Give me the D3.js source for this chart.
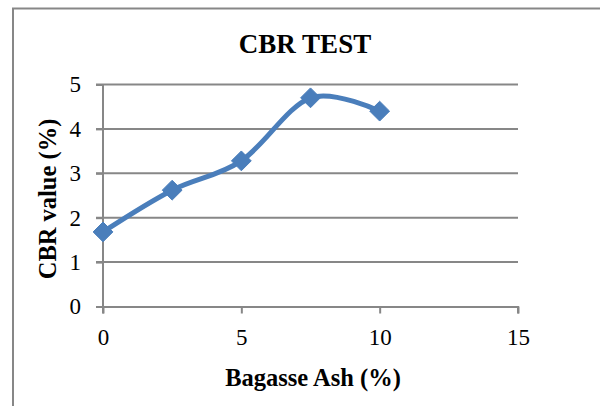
<!DOCTYPE html>
<html>
<head>
<meta charset="utf-8">
<script src="https://cdn.jsdelivr.net/npm/d3@7"></script>
<style>
  html, body { margin: 0; padding: 0; background: #fff; }
  svg { display: block; }
  text { font-family: "Liberation Serif", "Times New Roman", serif; fill: #000; }
</style>
</head>
<body>
<svg id="chart" width="600" height="406"></svg>
<script>
// CBR test results versus bagasse ash content
const ashPercent = [0, 2.5, 5, 7.5, 10];
const cbrValue = [1.68, 2.62, 3.28, 4.7, 4.4];
const xTicks = [0, 5, 10, 15];
const yTicks = [0, 1, 2, 3, 4, 5];
const titleText = "CBR TEST";
const xTitle = "Bagasse Ash (%)";
const yTitle = "CBR value (%)";

const svg = d3.select("#chart");
const gridColor = "#878787";
const lineColor = "#4a7ebb";

// chart area frame
svg.append("path")
  .attr("d", "M13,406 V8.5 H600")
  .attr("fill", "none")
  .attr("stroke", gridColor)
  .attr("stroke-width", 2);

const x = d3.scaleLinear().domain([0, 15]).range([103, 518]);
const y = d3.scaleLinear().domain([0, 5]).range([306.5, 84.5]);

// horizontal gridlines
svg.append("g").selectAll("line").data(yTicks.filter(d => d > 0)).join("line")
  .attr("x1", 96).attr("x2", x(15))
  .attr("y1", d => y(d)).attr("y2", d => y(d))
  .attr("stroke", gridColor).attr("stroke-width", 2);

// axes
const xAxis = svg.append("g").attr("transform", `translate(0,${y(0)})`)
  .call(d3.axisBottom(x).tickValues(xTicks).tickSize(7).tickPadding(15).tickFormat(d3.format("d")));
const yAxis = svg.append("g").attr("transform", `translate(${x(0)},0)`)
  .call(d3.axisLeft(y).tickValues(yTicks).tickSize(7).tickPadding(15).tickFormat(d3.format("d")));

[xAxis, yAxis].forEach(g => {
  g.select(".domain").attr("stroke", gridColor).attr("stroke-width", 2);
  g.selectAll(".tick line").attr("stroke", gridColor).attr("stroke-width", 2);
  g.selectAll(".tick text")
    .attr("font-family", "Liberation Serif, Times New Roman, serif")
    .attr("font-size", 23).attr("fill", "#000");
});
// axis lines run the full plot extent
xAxis.select(".domain").attr("d", `M${x(0) - 7},0.5H${x(15)}V7`);
yAxis.select(".domain").attr("d", `M0,${y(5)}V${y(0) + 7}`);

// smoothed series line
const line = d3.line()
  .x((d, i) => x(ashPercent[i]))
  .y(d => y(d))
  .curve(d3.curveCatmullRom.alpha(0));

svg.append("path")
  .datum(cbrValue)
  .attr("d", line)
  .attr("fill", "none")
  .attr("stroke", lineColor)
  .attr("stroke-width", 5)
  .attr("stroke-linejoin", "round");

// diamond markers
const diamond = d3.symbol().type(d3.symbolDiamond2).size(250);
svg.append("g").selectAll("path").data(cbrValue).join("path")
  .attr("d", diamond)
  .attr("transform", (d, i) => `translate(${x(ashPercent[i])},${y(d)})`)
  .attr("fill", lineColor)
  .attr("stroke", lineColor)
  .attr("stroke-width", 1);

// titles
svg.append("text")
  .attr("x", 305).attr("y", 53)
  .attr("text-anchor", "middle")
  .attr("font-weight", "bold").attr("font-size", 27)
  .text(titleText);

svg.append("text")
  .attr("x", 313).attr("y", 386)
  .attr("text-anchor", "middle")
  .attr("font-weight", "bold").attr("font-size", 24.5)
  .text(xTitle);

svg.append("text")
  .attr("transform", "translate(56,199) rotate(-90)")
  .attr("text-anchor", "middle")
  .attr("font-weight", "bold").attr("font-size", 24.5)
  .text(yTitle);
</script>
</body>
</html>
